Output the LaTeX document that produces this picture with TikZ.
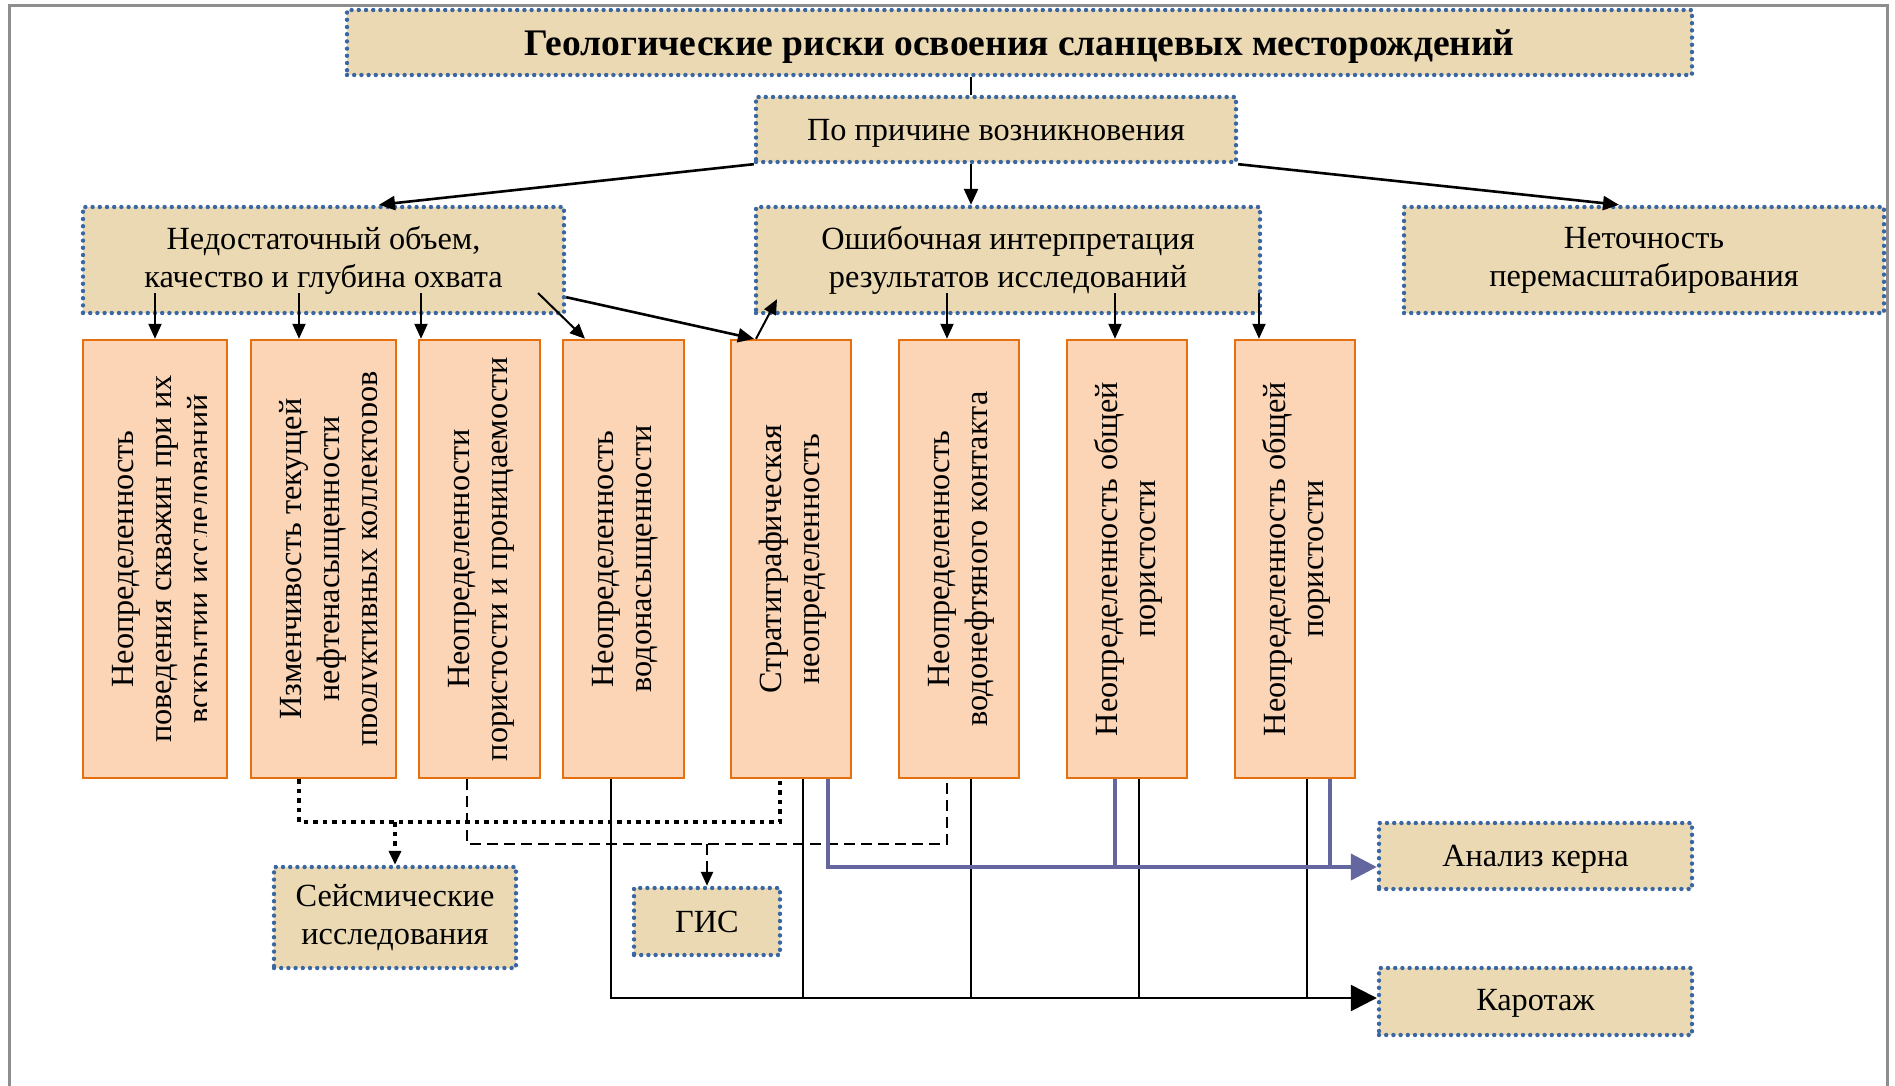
\documentclass[tikz,border=0pt]{standalone}
\usepackage{fontspec}
\setmainfont{Liberation Serif}
\usetikzlibrary{arrows.meta,calc}
\definecolor{beigebg}{HTML}{EAD9B3}
\definecolor{dotblue}{HTML}{3A66A2}
\definecolor{peach}{HTML}{FBD5B5}
\definecolor{orangeline}{HTML}{E4700F}
\definecolor{violetline}{HTML}{6466A0}
\definecolor{framegray}{HTML}{8E8E8E}
\begin{document}
\begin{tikzpicture}[x=1pt,y=-1pt,
  beigebox/.style={draw=dotblue, fill=beigebg, line width=4.4pt, dash pattern=on 0pt off 7.2pt, line cap=round, inner sep=0pt, align=center, font=\fontsize{32.3}{38}\selectfont},
  pbox/.style={draw=orangeline, fill=peach, line width=2.4pt, inner sep=0pt, minimum height=438pt},
  vtext/.style={rotate=90, anchor=north, inner sep=0pt, align=center, font=\fontsize{32.3}{38}\selectfont},
  arr/.style={line width=2pt, -{Triangle[length=15pt,width=13pt]}},
  arrtop/.style={line width=2.6pt, -{Triangle[length=16pt,width=14pt]}},
  thinline/.style={line width=1.6pt},
  dotline/.style={line width=4.5pt, dash pattern=on 4.5pt off 5pt},
  dashline/.style={line width=2.4pt, dash pattern=on 11pt off 6pt},
  smalltip/.style={-{Triangle[length=14pt,width=12pt]}},
  bluemain/.style={draw=violetline, line width=4pt, -{Triangle[length=26pt,width=26pt]}},
  bluebranch/.style={draw=violetline, line width=3.4pt},
  blackmain/.style={line width=2.4pt, -{Triangle[length=26pt,width=26pt]}},
  blackbranch/.style={line width=2pt}
]
\useasboundingbox (0,0) rectangle (1895,1086);
\fill[white] (0,0) rectangle (1895,1086);
\draw[framegray, line width=3pt] (9,1086) -- (9,6) -- (1887,6) -- (1887,1086);

% upper boxes
\node[beigebox, minimum width=1345pt, minimum height=65pt, text height=27pt, text depth=0pt, font=\fontsize{37.5}{40}\selectfont\bfseries] (title) at (1019.5,42.5) {Геологические риски освоения сланцевых месторождений};
\node[beigebox, minimum width=480pt, minimum height=65pt, text height=22pt, text depth=0pt] (cause) at (996,129.5) {По причине возникновения};
\node[beigebox, minimum width=481pt, minimum height=106pt] (left) at (323.5,260) {Недостаточный объем,\\качество и глубина охвата};
\node[beigebox, minimum width=504pt, minimum height=106pt] (mid) at (1008,260) {Ошибочная интерпретация\\результатов исследований};
\node[beigebox, minimum width=480pt, minimum height=106pt] (right) at (1644,260) {Неточность\\перемасштабирования};

% orange boxes
\node[pbox, minimum width=144pt] (b1) at (155,559) {};
\node[pbox, minimum width=145pt] (b2) at (323.5,559) {};
\node[pbox, minimum width=121pt] (b3) at (479.5,559) {};
\node[pbox, minimum width=121pt] (b4) at (623.5,559) {};
\node[pbox, minimum width=120pt] (b5) at (791,559) {};
\node[pbox, minimum width=120pt] (b6) at (959,559) {};
\node[pbox, minimum width=120pt] (b7) at (1127,559) {};
\node[pbox, minimum width=120pt] (b8) at (1295,559) {};

\begin{scope}
\clip (b1.north west) rectangle ($(b1.south east)+(-22,0)$);
\node[vtext] (t1) at ($(b1.west)+(25,0)$) {\rule{0pt}{26pt}Неопределенность\\поведения скважин при их\\вскрытии исследований};
\end{scope}
\begin{scope}
\clip (b2.north west) rectangle ($(b2.south east)+(-21,0)$);
\node[vtext] (t2) at ($(b2.west)+(25,0)$) {\rule{0pt}{26pt}Изменчивость текущей\\нефтенасыщенности\\продуктивных коллекторов};
\end{scope}
\node[vtext] (t3) at ($(b3.west)+(25,0)$) {\rule{0pt}{26pt}Неопределенности\\пористости и проницаемости};
\node[vtext] (t4) at ($(b4.west)+(25,0)$) {\rule{0pt}{26pt}Неопределенность\\водонасыщенности};
\node[vtext] (t5) at ($(b5.west)+(25,0)$) {\rule{0pt}{26pt}Стратиграфическая\\неопределенность};
\node[vtext] (t6) at ($(b6.west)+(25,0)$) {\rule{0pt}{26pt}Неопределенность\\водонефтяного контакта};
\node[vtext] (t7) at ($(b7.west)+(25,0)$) {\rule{0pt}{26pt}Неопределенность общей\\пористости};
\node[vtext] (t8) at ($(b8.west)+(25,0)$) {\rule{0pt}{26pt}Неопределенность общей\\пористости};

% lower boxes
\node[beigebox, minimum width=242pt, minimum height=101pt] (seis) at (395,917.5) {Сейсмические\\исследования};
\node[beigebox, minimum width=146pt, minimum height=67pt] (gis) at (707,921.5) {ГИС};
\node[beigebox, minimum width=313pt, minimum height=66pt, text height=21.4pt, text depth=0pt] (kern) at (1535.5,856) {Анализ керна};
\node[beigebox, minimum width=313pt, minimum height=67pt, text height=17pt, text depth=0pt] (karot) at (1535.5,1001.5) {Каротаж};

% helper coordinates
\coordinate (xA) at (971,0);
\coordinate (xL) at (379,0);
\coordinate (xR) at (1619,0);
\coordinate (yS) at (0,293);
\coordinate (x299) at (299,0);
\coordinate (x421) at (421,0);
\coordinate (x538) at (538,0);
\coordinate (x585) at (585,0);
\coordinate (x754) at (754,0);
\coordinate (x756) at (756,0);
\coordinate (x777) at (777,0);
\coordinate (x947) at (947,0);
\coordinate (x1115) at (1115,0);
\coordinate (x1259) at (1259,0);
\coordinate (yD) at (0,822);
\coordinate (yH) at (0,844);
\coordinate (yK) at (0,867);
\coordinate (yC) at (0,998);
\coordinate (x467) at (467,0);
\coordinate (x780) at (780,0);
\coordinate (x828) at (828,0);
\coordinate (x1330) at (1330,0);
\coordinate (x611) at (611,0);
\coordinate (x803) at (803,0);
\coordinate (x971) at (971,0);
\coordinate (x1139) at (1139,0);
\coordinate (x1307) at (1307,0);

% top connectors
\draw[thinline] (title.south -| xA) -- (cause.north -| xA);
\draw[arrtop] (cause.south west) -- (left.north -| xL);
\draw[arrtop] (cause.south -| xA) -- (mid.north -| xA);
\draw[arrtop] (cause.south east) -- (right.north -| xR);

\draw[arr] (b1.north |- yS) -- (b1.north);
\draw[arr] (yS -| x299) -- (b2.north -| x299);
\draw[arr] (yS -| x421) -- (b3.north -| x421);
\draw[arr] (yS -| x538) -- (b4.north -| x585);
\draw[arrtop] ($(left.south east)+(0,-18)$) -- (b5.north -| x754);
\draw[arr] (b5.north -| x756) -- ($(mid.south -| x777)+(0,-16)$);
\draw[arr] (yS -| x947) -- (b6.north -| x947);
\draw[arr] (yS -| x1115) -- (b7.north -| x1115);
\draw[arr] (yS -| x1259) -- (b8.north -| x1259);

% bottom connectors
\draw[dotline] (b2.south -| x299) -- (yD -| x299) -- (yD -| x780) -- (b5.south -| x780);
\draw[dotline, smalltip] (yD -| seis.north) -- (seis.north);
\draw[dashline] (b3.south -| x467) -- (yH -| x467) -- (yH -| x947) -- (b6.south -| x947);
\draw[dashline, smalltip] (yH -| gis.north) -- (gis.north);

\draw[blackbranch] (b5.south -| x803) -- (yC -| x803);
\draw[blackbranch] (b6.south -| x971) -- (yC -| x971);
\draw[blackbranch] (b7.south -| x1139) -- (yC -| x1139);
\draw[blackbranch] (b8.south -| x1307) -- (yC -| x1307);
\draw[blackmain] (b4.south -| x611) -- (yC -| x611) -- (karot.west |- yC);

\draw[bluebranch] (b7.south -| x1115) -- (yK -| x1115);
\draw[bluebranch] (b8.south -| x1330) -- (yK -| x1330);
\draw[bluemain] (b5.south -| x828) -- (yK -| x828) -- (kern.west |- yK);
\end{tikzpicture}
\end{document}
